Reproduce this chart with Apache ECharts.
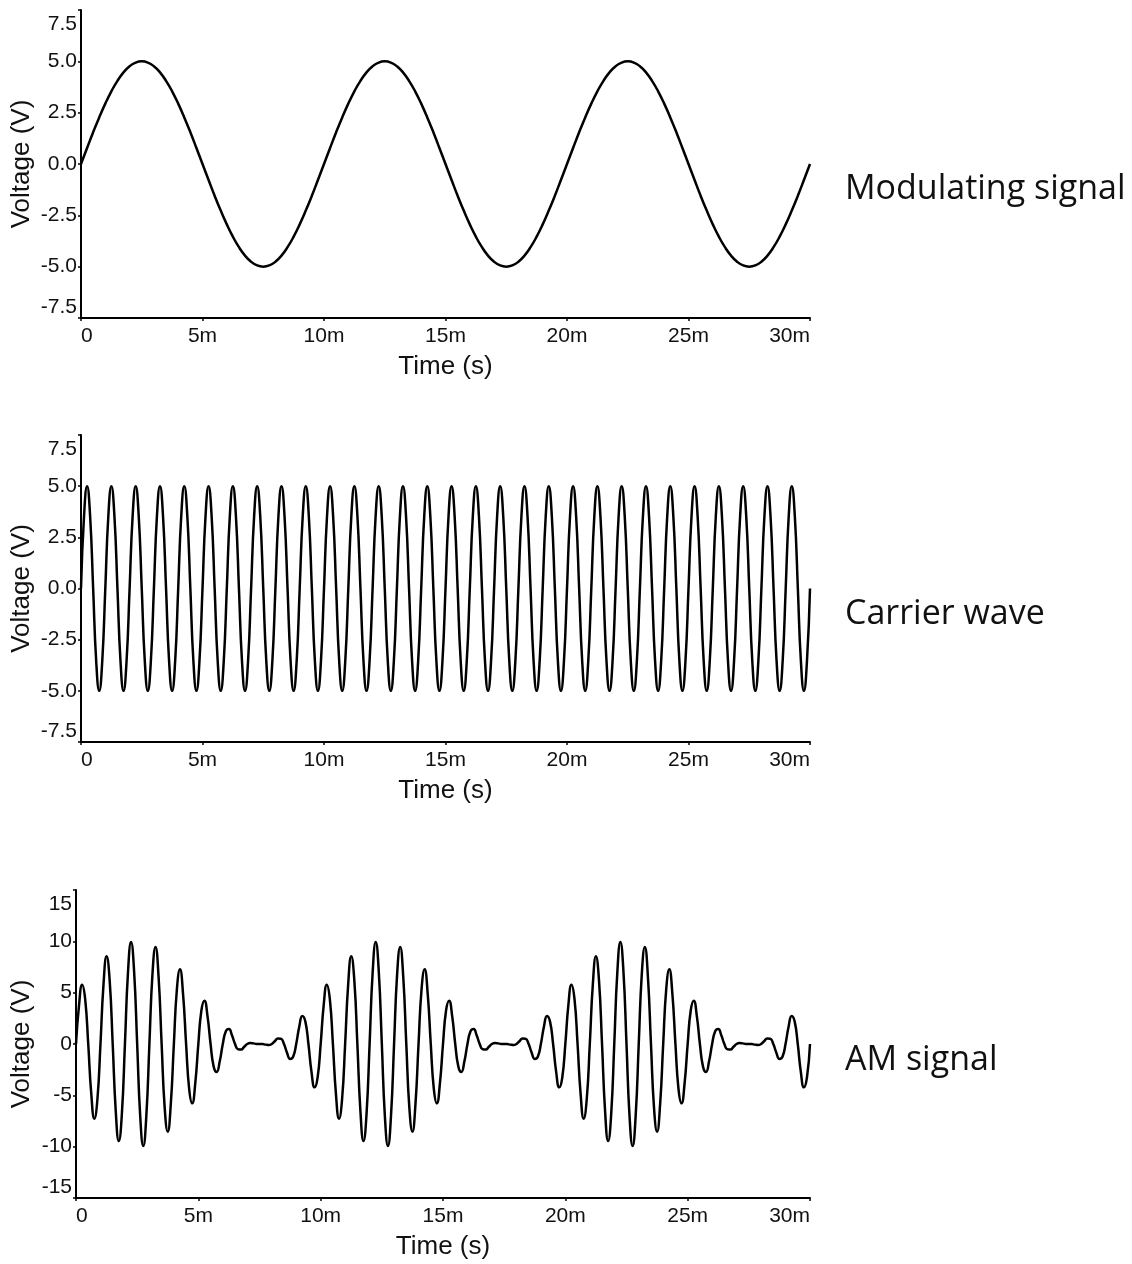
<!DOCTYPE html>
<html><head><meta charset="utf-8">
<script src="https://cdn.jsdelivr.net/npm/echarts@6/dist/echarts.min.js"></script>
<style>html,body{margin:0;padding:0;background:#fff}#c{width:1132px;height:1264px}</style>
</head><body><div id="c"></div>
<script>
// ---- data ----
const xTickValues = [0, 5, 10, 15, 20, 25, 30];            // ms
const xTickLabels = ['0', '5m', '10m', '15m', '20m', '25m', '30m'];
const yTickValuesSmall = [-7.5, -5, -2.5, 0, 2.5, 5, 7.5];
const yTickLabelsSmall = ['-7.5', '-5.0', '-2.5', '0.0', '2.5', '5.0', '7.5'];
const yTickValuesAM = [-15, -10, -5, 0, 5, 10, 15];
const yTickLabelsAM = ['-15', '-10', '-5', '0', '5', '10', '15'];
const panelLabels = ['Modulating signal', 'Carrier wave', 'AM signal'];
const xName = 'Time (s)';
const yName = 'Voltage (V)';

const modulatingStepMs = 0.25;
const fastStepMs = 0.125;

const modulatingValues = [
  0, 0.78, 1.55, 2.27, 2.94, 3.54, 4.05, 4.46, 4.76, 4.94, 5, 4.94, 4.76, 4.46, 4.05, 3.54, 2.94, 2.27, 1.55, 0.78,
  0, -0.78, -1.55, -2.27, -2.94, -3.54, -4.05, -4.46, -4.76, -4.94, -5, -4.94, -4.76, -4.46, -4.05, -3.54, -2.94, -2.27, -1.55, -0.78,
  0, 0.78, 1.55, 2.27, 2.94, 3.54, 4.05, 4.46, 4.76, 4.94, 5, 4.94, 4.76, 4.46, 4.05, 3.54, 2.94, 2.27, 1.55, 0.78,
  0, -0.78, -1.55, -2.27, -2.94, -3.54, -4.05, -4.46, -4.76, -4.94, -5, -4.94, -4.76, -4.46, -4.05, -3.54, -2.94, -2.27, -1.55, -0.78,
  0, 0.78, 1.55, 2.27, 2.94, 3.54, 4.05, 4.46, 4.76, 4.94, 5, 4.94, 4.76, 4.46, 4.05, 3.54, 2.94, 2.27, 1.55, 0.78,
  0, -0.78, -1.55, -2.27, -2.94, -3.54, -4.05, -4.46, -4.76, -4.94, -5, -4.94, -4.76, -4.46, -4.05, -3.54, -2.94, -2.27, -1.55, -0.78,
  0
];

const carrierValues = [
  0, 3.54, 5, 3.54, 0, -3.54, -5, -3.54,
  0, 3.54, 5, 3.54, 0, -3.54, -5, -3.54,
  0, 3.54, 5, 3.54, 0, -3.54, -5, -3.54,
  0, 3.54, 5, 3.54, 0, -3.54, -5, -3.54,
  0, 3.54, 5, 3.54, 0, -3.54, -5, -3.54,
  0, 3.54, 5, 3.54, 0, -3.54, -5, -3.54,
  0, 3.54, 5, 3.54, 0, -3.54, -5, -3.54,
  0, 3.54, 5, 3.54, 0, -3.54, -5, -3.54,
  0, 3.54, 5, 3.54, 0, -3.54, -5, -3.54,
  0, 3.54, 5, 3.54, 0, -3.54, -5, -3.54,
  0, 3.54, 5, 3.54, 0, -3.54, -5, -3.54,
  0, 3.54, 5, 3.54, 0, -3.54, -5, -3.54,
  0, 3.54, 5, 3.54, 0, -3.54, -5, -3.54,
  0, 3.54, 5, 3.54, 0, -3.54, -5, -3.54,
  0, 3.54, 5, 3.54, 0, -3.54, -5, -3.54,
  0, 3.54, 5, 3.54, 0, -3.54, -5, -3.54,
  0, 3.54, 5, 3.54, 0, -3.54, -5, -3.54,
  0, 3.54, 5, 3.54, 0, -3.54, -5, -3.54,
  0, 3.54, 5, 3.54, 0, -3.54, -5, -3.54,
  0, 3.54, 5, 3.54, 0, -3.54, -5, -3.54,
  0, 3.54, 5, 3.54, 0, -3.54, -5, -3.54,
  0, 3.54, 5, 3.54, 0, -3.54, -5, -3.54,
  0, 3.54, 5, 3.54, 0, -3.54, -5, -3.54,
  0, 3.54, 5, 3.54, 0, -3.54, -5, -3.54,
  0, 3.54, 5, 3.54, 0, -3.54, -5, -3.54,
  0, 3.54, 5, 3.54, 0, -3.54, -5, -3.54,
  0, 3.54, 5, 3.54, 0, -3.54, -5, -3.54,
  0, 3.54, 5, 3.54, 0, -3.54, -5, -3.54,
  0, 3.54, 5, 3.54, 0, -3.54, -5, -3.54,
  0, 3.54, 5, 3.54, 0, -3.54, -5, -3.54,
  0
];

const amValues = [
  0, 3.81, 5.78, 4.36, 0, -4.89, -7.27, -5.38,
  0, 5.83, 8.54, 6.22, 0, -6.55, -9.46, -6.80,
  0, 6.97, 9.94, 7.06, 0, -7.06, -9.94, -6.97,
  0, 6.80, 9.46, 6.55, 0, -6.22, -8.54, -5.83,
  0, 5.38, 7.27, 4.89, 0, -4.36, -5.78, -3.81,
  0, 3.26, 4.22, 2.71, 0, -2.18, -2.73, -1.69,
  0, 1.24, 1.46, 0.85, 0, -0.52, -0.54, -0.27,
  0, 0.10, 0.06, 0.01, 0, -0.01, -0.06, -0.10,
  0, 0.27, 0.54, 0.52, 0, -0.85, -1.46, -1.24,
  0, 1.69, 2.73, 2.18, 0, -2.71, -4.22, -3.26,
  0, 3.81, 5.78, 4.36, 0, -4.89, -7.27, -5.38,
  0, 5.83, 8.54, 6.22, 0, -6.55, -9.46, -6.80,
  0, 6.97, 9.94, 7.06, 0, -7.06, -9.94, -6.97,
  0, 6.80, 9.46, 6.55, 0, -6.22, -8.54, -5.83,
  0, 5.38, 7.27, 4.89, 0, -4.36, -5.78, -3.81,
  0, 3.26, 4.22, 2.71, 0, -2.18, -2.73, -1.69,
  0, 1.24, 1.46, 0.85, 0, -0.52, -0.54, -0.27,
  0, 0.10, 0.06, 0.01, 0, -0.01, -0.06, -0.10,
  0, 0.27, 0.54, 0.52, 0, -0.85, -1.46, -1.24,
  0, 1.69, 2.73, 2.18, 0, -2.71, -4.22, -3.26,
  0, 3.81, 5.78, 4.36, 0, -4.89, -7.27, -5.38,
  0, 5.83, 8.54, 6.22, 0, -6.55, -9.46, -6.80,
  0, 6.97, 9.94, 7.06, 0, -7.06, -9.94, -6.97,
  0, 6.80, 9.46, 6.55, 0, -6.22, -8.54, -5.83,
  0, 5.38, 7.27, 4.89, 0, -4.36, -5.78, -3.81,
  0, 3.26, 4.22, 2.71, 0, -2.18, -2.73, -1.69,
  0, 1.24, 1.46, 0.85, 0, -0.52, -0.54, -0.27,
  0, 0.10, 0.06, 0.01, 0, -0.01, -0.06, -0.10,
  0, 0.27, 0.54, 0.52, 0, -0.85, -1.46, -1.24,
  0, 1.69, 2.73, 2.18, 0, -2.71, -4.22, -3.26,
  0
];

// ---- chart ----
const FONT = "'Liberation Sans', Arial, sans-serif";
const INK = '#111';
const TICK_FS = 21;
const NAME_FS = 26;

function pairs(values, step) { return values.map((v, i) => [i * step, v]); }

const grids = [
  { left: 81, top: 10, width: 729, height: 308, outerBoundsMode: 'none', containLabel: false },
  { left: 81, top: 435, width: 729, height: 307, outerBoundsMode: 'none', containLabel: false },
  { left: 76, top: 890, width: 734, height: 308, outerBoundsMode: 'none', containLabel: false }
];

function makeX(gi) {
  return {
    type: 'value', gridIndex: gi, min: 0, max: 30, interval: 5,
    name: xName, nameLocation: 'middle', nameGap: 36, nameMoveOverlap: false,
    nameTextStyle: { fontFamily: FONT, fontSize: NAME_FS, color: INK },
    axisLine: { show: true, onZero: false, lineStyle: { color: '#000', width: 2 } },
    axisTick: { show: true, length: 3, lineStyle: { color: '#000', width: 1.5 } },
    splitLine: { show: false },
    axisLabel: {
      fontFamily: FONT, fontSize: TICK_FS, color: INK, margin: 8,
      alignMinLabel: 'left', alignMaxLabel: 'right',
      formatter: v => xTickLabels[xTickValues.indexOf(v)]
    }
  };
}

function makeY(gi, vals, labs, interval, nameGap) {
  const lo = vals[0], hi = vals[vals.length - 1];
  return {
    type: 'value', gridIndex: gi, min: lo, max: hi, interval: interval,
    name: yName, nameLocation: 'middle', nameGap: nameGap, nameMoveOverlap: false,
    nameTextStyle: { fontFamily: FONT, fontSize: NAME_FS, color: INK },
    axisLine: { show: true, onZero: false, lineStyle: { color: '#000', width: 2 } },
    axisTick: { show: true, length: 3, lineStyle: { color: '#000', width: 1.5 } },
    splitLine: { show: false },
    axisLabel: {
      fontFamily: FONT, fontSize: TICK_FS, color: INK, margin: 4,
      formatter: v => {
        const idx = vals.findIndex(t => Math.abs(t - v) < 1e-9);
        const s = idx >= 0 ? labs[idx] : '';
        if (Math.abs(v - hi) < 1e-9) return '{hi|' + s + '}';
        if (Math.abs(v - lo) < 1e-9) return '{lo|' + s + '}';
        return s;
      },
      rich: {
        hi: { fontFamily: FONT, fontSize: TICK_FS, color: INK, padding: [28, 0, 0, 0] },
        lo: { fontFamily: FONT, fontSize: TICK_FS, color: INK, padding: [0, 0, 22, 0] }
      }
    }
  };
}

const lineStyle = { color: '#000', width: 2.5 };
const LABEL_FONT = "34px 'Open Sans', sans-serif";

const chart = echarts.init(document.getElementById('c'), null, { renderer: 'canvas' });
chart.setOption({
  backgroundColor: '#fff',
  animation: false,
  grid: grids,
  xAxis: [makeX(0), makeX(1), makeX(2)],
  yAxis: [
    makeY(0, yTickValuesSmall, yTickLabelsSmall, 2.5, 46),
    makeY(1, yTickValuesSmall, yTickLabelsSmall, 2.5, 46),
    makeY(2, yTickValuesAM, yTickLabelsAM, 5, 41)
  ],
  series: [
    { type: 'line', xAxisIndex: 0, yAxisIndex: 0, data: pairs(modulatingValues, modulatingStepMs),
      showSymbol: false, smooth: true, lineStyle: lineStyle, silent: true },
    { type: 'line', xAxisIndex: 1, yAxisIndex: 1, data: pairs(carrierValues, fastStepMs),
      showSymbol: false, smooth: true, lineStyle: lineStyle, silent: true },
    { type: 'line', xAxisIndex: 2, yAxisIndex: 2, data: pairs(amValues, fastStepMs),
      showSymbol: false, smooth: true, lineStyle: lineStyle, silent: true }
  ],
  graphic: [
    { type: 'text', left: 845, top: 189 - 17, style: { text: panelLabels[0], font: LABEL_FONT, fill: INK } },
    { type: 'text', left: 845, top: 614 - 17, style: { text: panelLabels[1], font: LABEL_FONT, fill: INK } },
    { type: 'text', left: 845, top: 1061 - 18, style: { text: panelLabels[2], font: LABEL_FONT, fill: INK } }
  ]
});
</script>
</body></html>
